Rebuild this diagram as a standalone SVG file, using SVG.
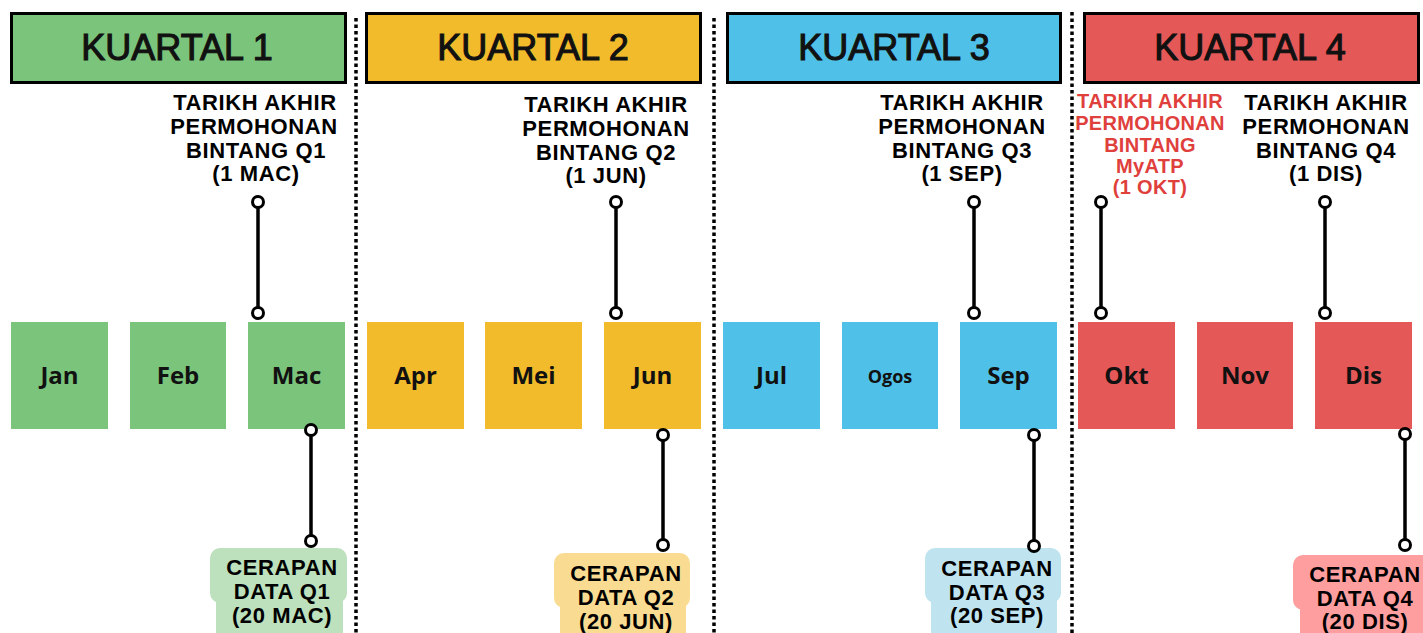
<svg xmlns="http://www.w3.org/2000/svg" width="1423" height="633" viewBox="0 0 1423 633">
<style>
.hdr{stroke:#000;stroke-width:3}
.hdrt{font-family:"Liberation Sans",Arial,sans-serif;font-size:36px;fill:#111;text-anchor:middle;stroke:#111;stroke-width:1.1}
.mon{font-family:"Open Sans","Liberation Sans",sans-serif;font-weight:700;font-size:24px;fill:#111;text-anchor:middle}
.lbl{font-family:"Liberation Sans",Arial,sans-serif;font-weight:700;font-size:22px;fill:#000;text-anchor:middle;letter-spacing:0.6px}
.red{fill:#e0403c;font-size:20px;letter-spacing:0.3px}
.div{stroke:#000;stroke-width:3.5;stroke-dasharray:3.5 3}
.con{stroke:#000;stroke-width:3.5;fill:none}
.dot{stroke:#000;stroke-width:3;fill:#fff}
.g{fill:#7bc47c}.y{fill:#f2bb2b}.b{fill:#4fc1e8}.r{fill:#e55858}
</style>
<rect width="1423" height="633" fill="#fff"/>
<g id="dividers">
<line class="div" x1="356" y1="18" x2="356" y2="633"/>
<line class="div" x1="714" y1="18" x2="714" y2="633"/>
<line class="div" x1="1072" y1="12" x2="1072" y2="633"/>
</g>
<g id="q1-header"><rect class="hdr g" x="11.5" y="13.5" width="334" height="69"/><text class="hdrt" x="177" y="60">KUARTAL 1</text></g>
<g id="q2-header"><rect class="hdr y" x="366.5" y="13.5" width="334" height="69"/><text class="hdrt" x="533" y="60">KUARTAL 2</text></g>
<g id="q3-header"><rect class="hdr b" x="727.5" y="13.5" width="333" height="69"/><text class="hdrt" x="894" y="60">KUARTAL 3</text></g>
<g id="q4-header"><rect class="hdr r" x="1084.5" y="13.5" width="334" height="69"/><text class="hdrt" x="1250" y="60">KUARTAL 4</text></g>

<g id="m-jan"><rect class="g" x="11" y="322" width="97" height="107"/><text class="mon" x="59.5" y="384">Jan</text></g>
<g id="m-feb"><rect class="g" x="130" y="322" width="96" height="107"/><text class="mon" x="178" y="384">Feb</text></g>
<g id="m-mac"><rect class="g" x="248" y="322" width="97" height="107"/><text class="mon" x="296.5" y="384">Mac</text></g>
<g id="m-apr"><rect class="y" x="367" y="322" width="97" height="107"/><text class="mon" x="415.5" y="384">Apr</text></g>
<g id="m-mei"><rect class="y" x="485" y="322" width="97" height="107"/><text class="mon" x="533.5" y="384">Mei</text></g>
<g id="m-jun"><rect class="y" x="604" y="322" width="97" height="107"/><text class="mon" x="652.5" y="384">Jun</text></g>
<g id="m-jul"><rect class="b" x="723" y="322" width="97" height="107"/><text class="mon" x="771.5" y="384">Jul</text></g>
<g id="m-ogos"><rect class="b" x="842" y="322" width="96" height="107"/><text class="mon" x="890" y="383" style="font-size:18px">Ogos</text></g>
<g id="m-sep"><rect class="b" x="960" y="322" width="97" height="107"/><text class="mon" x="1008.5" y="384">Sep</text></g>
<g id="m-okt"><rect class="r" x="1078" y="322" width="97" height="107"/><text class="mon" x="1126.5" y="384">Okt</text></g>
<g id="m-nov"><rect class="r" x="1197" y="322" width="96" height="107"/><text class="mon" x="1245" y="384">Nov</text></g>
<g id="m-dis"><rect class="r" x="1315" y="322" width="97" height="107"/><text class="mon" x="1363.5" y="384">Dis</text></g>

<g id="t-q1"><text class="lbl" x="255" y="110">TARIKH AKHIR</text><text class="lbl" x="254" y="134">PERMOHONAN</text><text class="lbl" x="256" y="158">BINTANG Q1</text><text class="lbl" x="256" y="181">(1 MAC)</text></g>
<g id="t-q2"><text class="lbl" x="606" y="112">TARIKH AKHIR</text><text class="lbl" x="606" y="136">PERMOHONAN</text><text class="lbl" x="606" y="160">BINTANG Q2</text><text class="lbl" x="606" y="183">(1 JUN)</text></g>
<g id="t-q3"><text class="lbl" x="962" y="110">TARIKH AKHIR</text><text class="lbl" x="962" y="134">PERMOHONAN</text><text class="lbl" x="962" y="158">BINTANG Q3</text><text class="lbl" x="962" y="181">(1 SEP)</text></g>
<g id="t-myatp"><text class="lbl red" x="1150" y="108">TARIKH AKHIR</text><text class="lbl red" x="1150" y="130">PERMOHONAN</text><text class="lbl red" x="1150" y="152">BINTANG</text><text class="lbl red" x="1150" y="173">MyATP</text><text class="lbl red" x="1150" y="194">(1 OKT)</text></g>
<g id="t-q4"><text class="lbl" x="1326" y="110">TARIKH AKHIR</text><text class="lbl" x="1326" y="134">PERMOHONAN</text><text class="lbl" x="1326" y="158">BINTANG Q4</text><text class="lbl" x="1326" y="181">(1 DIS)</text></g>

<g id="c-q1"><rect x="210" y="548" width="137" height="55" rx="10" fill="#bde0bd"/><rect x="216" y="585" width="127" height="60" rx="8" fill="#bde0bd"/><text class="lbl" x="282" y="575">CERAPAN</text><text class="lbl" x="282" y="599">DATA Q1</text><text class="lbl" x="282" y="623">(20 MAC)</text></g>
<g id="c-q2"><rect x="554" y="553" width="136" height="55" rx="10" fill="#f9dc92"/><rect x="560" y="590" width="126" height="60" rx="8" fill="#f9dc92"/><text class="lbl" x="626" y="581">CERAPAN</text><text class="lbl" x="626" y="605">DATA Q2</text><text class="lbl" x="626" y="629">(20 JUN)</text></g>
<g id="c-q3"><rect x="925" y="548" width="136" height="55" rx="10" fill="#bfe4f0"/><rect x="931" y="585" width="126" height="60" rx="8" fill="#bfe4f0"/><text class="lbl" x="997" y="576">CERAPAN</text><text class="lbl" x="997" y="600">DATA Q3</text><text class="lbl" x="997" y="623">(20 SEP)</text></g>
<g id="c-q4"><rect x="1293" y="555" width="140" height="55" rx="10" fill="#ff9e9e"/><rect x="1300" y="592" width="130" height="60" rx="8" fill="#ff9e9e"/><text class="lbl" x="1365" y="582">CERAPAN</text><text class="lbl" x="1365" y="606">DATA Q4</text><text class="lbl" x="1365" y="629">(20 DIS)</text></g>

<g id="connectors">
<line class="con" x1="258" y1="202" x2="258" y2="313"/>
<line class="con" x1="616" y1="202" x2="616" y2="313"/>
<line class="con" x1="974" y1="202" x2="974" y2="313"/>
<line class="con" x1="1101" y1="202" x2="1101" y2="313"/>
<line class="con" x1="1325" y1="202" x2="1325" y2="313"/>
<line class="con" x1="311" y1="430" x2="311" y2="541"/>
<line class="con" x1="663" y1="435" x2="663" y2="545"/>
<line class="con" x1="1034" y1="435" x2="1034" y2="546"/>
<line class="con" x1="1405" y1="434" x2="1405" y2="545"/>
<circle class="dot" cx="258" cy="202" r="5.5"/><circle class="dot" cx="258" cy="313" r="5.5"/>
<circle class="dot" cx="616" cy="202" r="5.5"/><circle class="dot" cx="616" cy="313" r="5.5"/>
<circle class="dot" cx="974" cy="202" r="5.5"/><circle class="dot" cx="974" cy="313" r="5.5"/>
<circle class="dot" cx="1101" cy="202" r="5.5"/><circle class="dot" cx="1101" cy="313" r="5.5"/>
<circle class="dot" cx="1325" cy="202" r="5.5"/><circle class="dot" cx="1325" cy="313" r="5.5"/>
<circle class="dot" cx="311" cy="430" r="5.5"/><circle class="dot" cx="311" cy="541" r="5.5"/>
<circle class="dot" cx="663" cy="435" r="5.5"/><circle class="dot" cx="663" cy="545" r="5.5"/>
<circle class="dot" cx="1034" cy="435" r="5.5"/><circle class="dot" cx="1034" cy="546" r="5.5"/>
<circle class="dot" cx="1405" cy="434" r="5.5"/><circle class="dot" cx="1405" cy="545" r="5.5"/>
</g>
</svg>
